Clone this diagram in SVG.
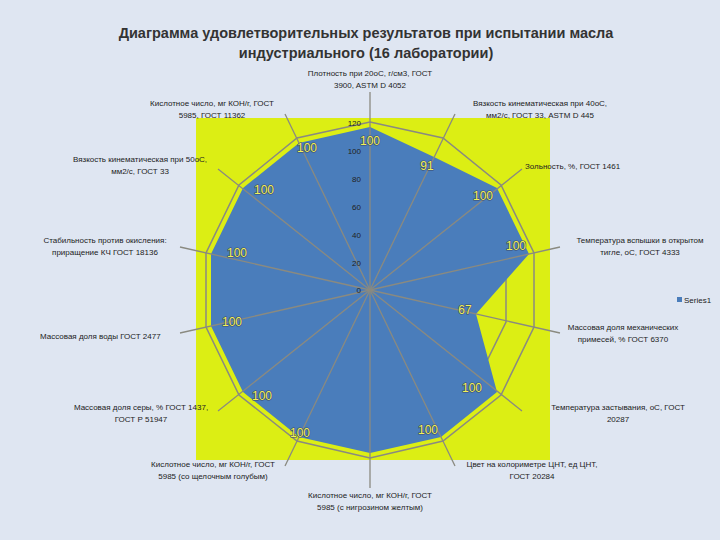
<svg xmlns="http://www.w3.org/2000/svg" width="720" height="540" viewBox="0 0 720 540">
<style>
.t{font-family:"Liberation Sans",Arial,sans-serif;font-size:8px;fill:#222}
.c{text-anchor:middle}
.tk{font-family:"Liberation Sans",Arial,sans-serif;font-size:8px;fill:#222;text-anchor:end}
.d{font-family:"Liberation Sans",Arial,sans-serif;font-size:12px;fill:#f2f25a;text-anchor:middle;stroke:#3a4a6a;stroke-width:1.2;paint-order:stroke}
.g{fill:none;stroke:#8a8a80;stroke-width:1.5}
.s{stroke:#8a8a80;stroke-width:1.3}
.h{font-family:"Liberation Sans",Arial,sans-serif;font-size:14.5px;font-weight:bold;fill:#333;text-anchor:middle}
</style>
<rect width="720" height="540" fill="#dfe6f2"/>
<rect x="196" y="118" width="354" height="342" fill="#dcee14"/>
<text class="h" x="366" y="38">Диаграмма удовлетворительных результатов при испытании масла</text>
<text class="h" x="366" y="58">индустриального (16 лаборатории)</text>
<g id="grid">
<polygon class="g" points="370,122 443,138 501,185 534,253 534,327 501,395 443,441 370,458 297,441 239,395 206,327 206,253 239,185 297,138"/>
<polygon class="g" points="370,150 431,164 479,203 506,258 506,322 479,377 431,416 370,430 309,416 261,377 234,322 234,258 261,203 309,164"/>
</g>
<g id="series">
<polygon fill="#4a7dbb" points="370,127 434,157 497,188 529,254 476,314 497,392 441,437 370,453 299,437 243,392 211,326 211,254 243,188 299,143"/>
</g>
<g id="connectors">
<line class="s" x1="370" y1="290" x2="370" y2="92"/>
<line class="s" x1="370" y1="290" x2="455" y2="114"/>
<line class="s" x1="370" y1="290" x2="522" y2="169"/>
<line class="s" x1="370" y1="290" x2="560" y2="247"/>
<line class="s" x1="370" y1="290" x2="560" y2="333"/>
<line class="s" x1="370" y1="290" x2="522" y2="411"/>
<line class="s" x1="370" y1="290" x2="455" y2="466"/>
<line class="s" x1="370" y1="290" x2="370" y2="488"/>
<line class="s" x1="370" y1="290" x2="285" y2="466"/>
<line class="s" x1="370" y1="290" x2="218" y2="411"/>
<line class="s" x1="370" y1="290" x2="180" y2="333"/>
<line class="s" x1="370" y1="290" x2="180" y2="247"/>
<line class="s" x1="370" y1="290" x2="218" y2="169"/>
<line class="s" x1="370" y1="290" x2="285" y2="114"/>
</g>
<g id="ticks">
<text class="tk" x="361" y="126">120</text>
<text class="tk" x="361" y="154">100</text>
<text class="tk" x="361" y="182">80</text>
<text class="tk" x="361" y="210">60</text>
<text class="tk" x="361" y="238">40</text>
<text class="tk" x="361" y="266">20</text>
<text class="tk" x="361" y="293">0</text>
</g>
<g id="values">
<text class="d" x="370" y="145">100</text>
<text class="d" x="427" y="170">91</text>
<text class="d" x="483" y="200">100</text>
<text class="d" x="516" y="250">100</text>
<text class="d" x="465" y="314">67</text>
<text class="d" x="472" y="392">100</text>
<text class="d" x="428" y="434">100</text>
<text class="d" x="300" y="437">100</text>
<text class="d" x="262" y="400">100</text>
<text class="d" x="232" y="326">100</text>
<text class="d" x="237" y="257">100</text>
<text class="d" x="264" y="194">100</text>
<text class="d" x="307" y="152">100</text>
</g>
<g id="labels">
<text class="t c" x="370" y="76">Плотность при 20оС, г/см3, ГОСТ</text>
<text class="t c" x="370" y="88">3900, ASTM D 4052</text>
<text class="t c" x="540" y="106">Вязкость кинематическая при 40оС,</text>
<text class="t c" x="540" y="118">мм2/с, ГОСТ 33, ASTM D 445</text>
<text class="t" x="525" y="169">Зольность, %, ГОСТ 1461</text>
<text class="t c" x="640" y="243">Температура вспышки в открытом</text>
<text class="t c" x="640" y="255">тигле, оС, ГОСТ 4333</text>
<text class="t c" x="623" y="330">Массовая доля механических</text>
<text class="t c" x="623" y="342">примесей, % ГОСТ 6370</text>
<text class="t c" x="618" y="410">Температура застывания, оС, ГОСТ</text>
<text class="t c" x="618" y="422">20287</text>
<text class="t c" x="532" y="467">Цвет на колориметре ЦНТ, ед ЦНТ,</text>
<text class="t c" x="532" y="479">ГОСТ 20284</text>
<text class="t c" x="370" y="498">Кислотное число, мг КОН/г, ГОСТ</text>
<text class="t c" x="370" y="510">5985 (с нигрозином желтым)</text>
<text class="t c" x="213" y="467">Кислотное число, мг КОН/г, ГОСТ</text>
<text class="t c" x="213" y="479">5985 (со щелочным голубым)</text>
<text class="t c" x="141" y="410">Массовая доля серы, % ГОСТ 1437,</text>
<text class="t c" x="141" y="422">ГОСТ Р 51947</text>
<text class="t" x="40" y="339">Массовая доля воды ГОСТ 2477</text>
<text class="t c" x="105" y="243">Стабильность против окисления:</text>
<text class="t c" x="105" y="255">приращение КЧ ГОСТ 18136</text>
<text class="t c" x="140" y="162">Вязкость кинематическая при 50оС,</text>
<text class="t c" x="140" y="174">мм2/с, ГОСТ 33</text>
<text class="t c" x="212" y="106">Кислотное число, мг КОН/г, ГОСТ</text>
<text class="t c" x="212" y="118">5985, ГОСТ 11362</text>
</g>
<g id="legend">
<rect x="677" y="297" width="5" height="5" fill="#4a7dbb"/>
<text class="t" x="684" y="303">Series1</text>
</g>
</svg>
